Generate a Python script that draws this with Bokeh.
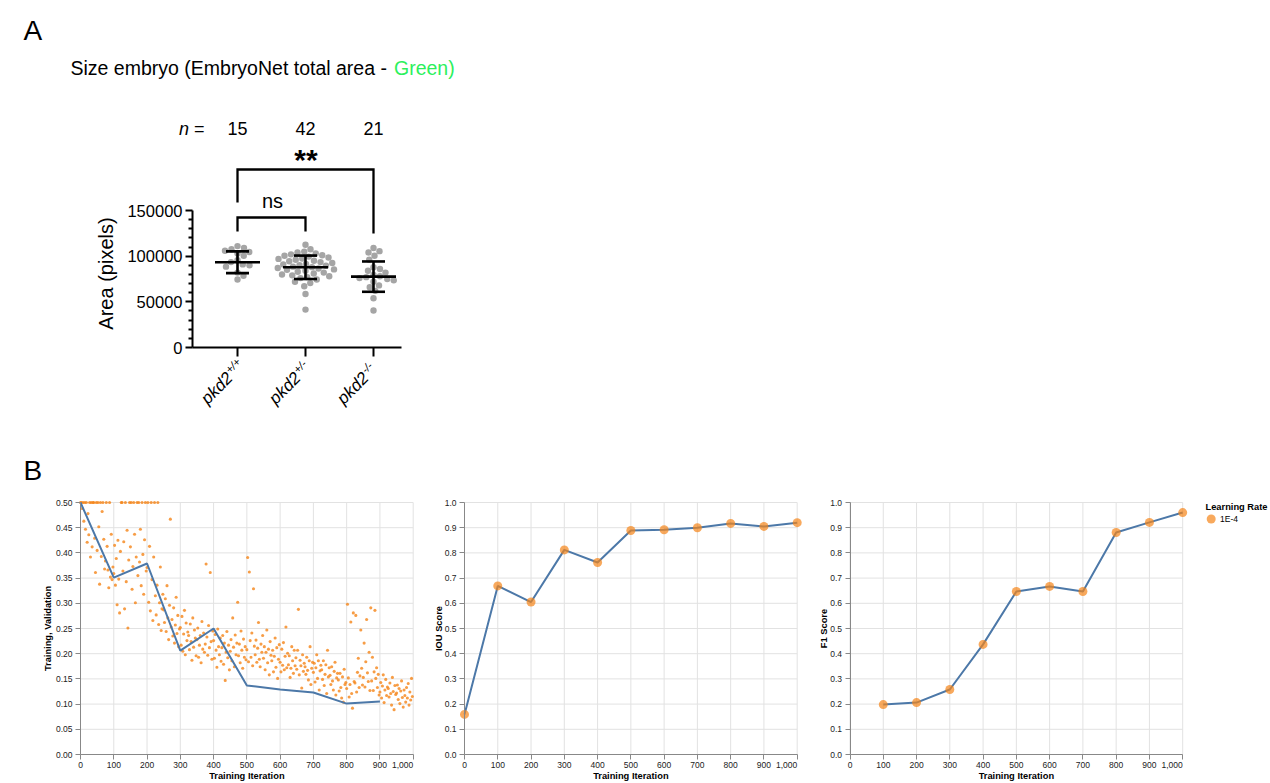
import numpy as np
from bokeh.plotting import figure
from bokeh.models import LinearAxis, FixedTicker, Range1d, NumeralTickFormatter, BasicTickFormatter
from bokeh.layouts import column, row
from bokeh.embed import file_html
from bokeh.resources import INLINE
from bokeh.core.properties import value

FONT = "Liberation Sans"

# ---------------- Panel A data ----------------
genotypes = ["pkd2", "pkd2", "pkd2"]
genotype_sup = ["+/+", "+/-", "-/-"]
n_labels = ["15", "42", "21"]
area_wt = [111000, 109000, 107500, 106000, 104500, 103000, 100500, 95500,
           93500, 91000, 90000, 88500, 82000, 78500, 74500]
area_het = [112500, 107500, 105000, 104000, 103000, 102000, 101000, 100500,
            99500, 98500, 97500, 97000, 96000, 95000, 94500, 93500, 92500,
            91500, 91000, 90000, 89500, 88500, 88000, 87000, 86500, 85500,
            85000, 84000, 83000, 82000, 81000, 80000, 79000, 78000, 77000,
            76000, 74500, 72000, 70500, 67000, 58500, 41500]
area_mut = [109000, 105500, 104000, 100500, 96000, 88000, 86000, 84000, 82000,
            79500, 78000, 77000, 76000, 75000, 73500, 72000, 68000, 66000,
            62000, 54000, 40500]
area_mean = [93300, 87800, 77600]
area_sd = [11900, 12800, 16600]
area_ticks = [0, 50000, 100000, 150000]
area_minor = [10000, 20000, 30000, 40000, 60000, 70000, 80000, 90000,
              110000, 120000, 130000, 140000]
sig_labels = ["ns", "**"]

# ---------------- Panel B data ----------------
iter_ticks = [0, 100, 200, 300, 400, 500, 600, 700, 800, 900, 1000]
loss_ticks = [0.0, 0.05, 0.10, 0.15, 0.20, 0.25, 0.30, 0.35, 0.40, 0.45, 0.50]
score_ticks = [0.0, 0.1, 0.2, 0.3, 0.4, 0.5, 0.6, 0.7, 0.8, 0.9, 1.0]
loss_log_step = 2.5  # training loss logged every 2.5 iterations
train_loss = [
    0.500, 0.500, 0.488, 0.500, 0.463, 0.500, 0.447, 0.500, 0.421, 0.478,
    0.436, 0.500, 0.392, 0.500, 0.412, 0.500, 0.500, 0.429, 0.361, 0.500,
    0.405, 0.500, 0.452, 0.338, 0.500, 0.393, 0.482, 0.500, 0.427, 0.368,
    0.384, 0.500, 0.413, 0.366, 0.331, 0.500, 0.352, 0.437, 0.347, 0.372,
    0.359, 0.415, 0.336, 0.389, 0.297, 0.425, 0.348, 0.281, 0.403, 0.500,
    0.500, 0.364, 0.422, 0.289, 0.500, 0.343, 0.445, 0.251, 0.386, 0.500,
    0.412, 0.500, 0.328, 0.373, 0.500, 0.437, 0.301, 0.392, 0.500, 0.355,
    0.500, 0.382, 0.447, 0.335, 0.500, 0.397, 0.318, 0.426, 0.500, 0.364,
    0.371, 0.500, 0.302, 0.413, 0.285, 0.500, 0.347, 0.266, 0.392, 0.500,
    0.315, 0.277, 0.336, 0.500, 0.258, 0.301, 0.372, 0.246, 0.289, 0.318,
    0.287, 0.262, 0.309, 0.244, 0.335, 0.271, 0.228, 0.296, 0.467, 0.253,
    0.268, 0.235, 0.291, 0.221, 0.257, 0.312, 0.240, 0.276, 0.214, 0.249,
    0.252, 0.217, 0.274, 0.205, 0.239, 0.286, 0.198, 0.261, 0.226, 0.243,
    0.236, 0.208, 0.259, 0.224, 0.187, 0.271, 0.213, 0.247, 0.231, 0.196,
    0.228, 0.251, 0.193, 0.217, 0.236, 0.182, 0.264, 0.209, 0.241, 0.203,
    0.219, 0.378, 0.233, 0.197, 0.256, 0.212, 0.361, 0.224, 0.189, 0.245,
    0.226, 0.191, 0.238, 0.207, 0.173, 0.249, 0.214, 0.198, 0.231, 0.185,
    0.212, 0.236, 0.179, 0.221, 0.147, 0.203, 0.244, 0.192, 0.217, 0.168,
    0.205, 0.228, 0.186, 0.271, 0.213, 0.174, 0.237, 0.198, 0.221, 0.302,
    0.196, 0.219, 0.182, 0.245, 0.207, 0.171, 0.229, 0.193, 0.214, 0.188,
    0.208, 0.391, 0.184, 0.362, 0.226, 0.193, 0.241, 0.176, 0.329, 0.215,
    0.198, 0.227, 0.183, 0.211, 0.262, 0.189, 0.174, 0.219, 0.203, 0.236,
    0.191, 0.214, 0.168, 0.203, 0.247, 0.182, 0.209, 0.158, 0.224, 0.197,
    0.186, 0.207, 0.164, 0.195, 0.231, 0.173, 0.212, 0.151, 0.189, 0.218,
    0.183, 0.164, 0.209, 0.177, 0.222, 0.168, 0.195, 0.253, 0.172, 0.201,
    0.178, 0.196, 0.153, 0.171, 0.214, 0.186, 0.161, 0.207, 0.176, 0.192,
    0.169, 0.207, 0.288, 0.158, 0.187, 0.176, 0.132, 0.198, 0.165, 0.181,
    0.174, 0.159, 0.193, 0.167, 0.148, 0.186, 0.214, 0.139, 0.171, 0.183,
    0.163, 0.181, 0.144, 0.172, 0.198, 0.151, 0.186, 0.128, 0.166, 0.177,
    0.168, 0.149, 0.186, 0.137, 0.159, 0.178, 0.121, 0.207, 0.154, 0.172,
    0.157, 0.139, 0.174, 0.146, 0.128, 0.165, 0.183, 0.118, 0.152, 0.161,
    0.148, 0.126, 0.161, 0.133, 0.112, 0.154, 0.104, 0.169, 0.139, 0.143,
    0.131, 0.298, 0.152, 0.114, 0.139, 0.263, 0.121, 0.092, 0.281, 0.145,
    0.142, 0.276, 0.124, 0.163, 0.191, 0.133, 0.156, 0.247, 0.171, 0.138,
    0.153, 0.221, 0.134, 0.184, 0.268, 0.162, 0.145, 0.203, 0.127, 0.291,
    0.146, 0.193, 0.127, 0.164, 0.286, 0.151, 0.172, 0.133, 0.159, 0.118,
    0.124, 0.143, 0.112, 0.136, 0.158, 0.103, 0.128, 0.149, 0.117, 0.134,
    0.131, 0.114, 0.142, 0.121, 0.098, 0.153, 0.125, 0.089, 0.137, 0.119,
    0.122, 0.138, 0.109, 0.131, 0.101, 0.126, 0.146, 0.113, 0.094, 0.128,
    0.117, 0.104, 0.133, 0.112, 0.141, 0.098, 0.124, 0.108, 0.151, 0.115,
]
val_iter = [0, 100, 200, 300, 400, 500, 600, 700, 800, 900]
val_loss = [0.500, 0.351, 0.379, 0.206, 0.250, 0.137, 0.129, 0.123, 0.101, 0.105]
iou_iter = [0, 100, 200, 300, 400, 500, 600, 700, 800, 900, 1000]
iou_score = [0.159, 0.669, 0.605, 0.812, 0.762, 0.889, 0.892, 0.900, 0.917, 0.905, 0.920]
f1_iter = [100, 200, 300, 400, 500, 600, 700, 800, 900, 1000]
f1_score = [0.198, 0.206, 0.258, 0.437, 0.647, 0.667, 0.647, 0.881, 0.921, 0.960]
legend_title = "Learning Rate"
learning_rate = "1E-4"

ORANGE = "#f58518"
BLUE = "#4c78a8"


def tx(p, fx, fy, xs, ys, texts, size, align="left", baseline="middle",
       angle=0.0, style="normal", color="#000000"):
    p.text(x=[fx(v) for v in xs], y=[fy(v) for v in ys], text=texts,
           text_font=value(FONT), text_font_size=value(size),
           text_font_style=style, text_align=align, text_baseline=baseline,
           angle=angle, text_color=color)


# ======================= Panel A =======================
WA, HA = 1268, 485
CAT_PX = [237.0, 305.0, 373.0]
PX_PER_CAT = 68.0
PX_PER_VAL = 137.0 / 150000.0


def axA(px):
    return 1.0 + (px - 237.0) / PX_PER_CAT


def ayA(py):
    return (347.0 - py) / PX_PER_VAL


pA = figure(width=WA, height=HA, x_range=Range1d(axA(0), axA(WA)),
            y_range=Range1d(ayA(HA), ayA(0)), x_axis_location=None,
            y_axis_location=None, toolbar_location=None, output_backend="svg",
            min_border=0, outline_line_color=None, title=None)
pA.grid.visible = False

yA = LinearAxis(fixed_location=axA(192), bounds=(0, 150000),
                ticker=FixedTicker(ticks=area_ticks, minor_ticks=area_minor),
                formatter=BasicTickFormatter(use_scientific=False),
                axis_line_width=2, axis_line_color="black",
                major_tick_line_width=2, minor_tick_line_width=2,
                major_tick_out=7, major_tick_in=0, minor_tick_out=4, minor_tick_in=0,
                major_label_text_font=FONT, major_label_text_font_size="16.5px",
                major_label_text_color="black", major_label_standoff=3)
pA.add_layout(yA, "left")
xA = LinearAxis(fixed_location=0, bounds=(axA(192), axA(401)),
                ticker=FixedTicker(ticks=[1, 2, 3], minor_ticks=[]),
                major_label_overrides={1: "", 2: "", 3: ""},
                axis_line_width=2, axis_line_color="black",
                major_tick_line_width=2, major_tick_out=9, major_tick_in=0,
                minor_tick_line_color=None, major_label_text_font_size="1px")
pA.add_layout(xA, "below")


def swarm_offsets(vals, diam=6.6, step=0.25):
    order = sorted(range(len(vals)), key=lambda i: vals[i], reverse=True)
    placed = []
    offs = [0.0] * len(vals)
    for i in order:
        yp = vals[i] * PX_PER_VAL
        k = 0
        chosen = None
        while chosen is None:
            cands = [0.0] if k == 0 else [k * step, -k * step]
            for c in cands:
                if all((c - qx) ** 2 + (yp - qy) ** 2 >= diam ** 2 for qx, qy in placed):
                    chosen = c
                    break
            k += 1
        placed.append((chosen, yp))
        offs[i] = chosen
    return offs


for gi, vals in enumerate([area_wt, area_het, area_mut]):
    offs = swarm_offsets(vals)
    xs = [gi + 1 + o / PX_PER_CAT for o in offs]
    pA.scatter(x=xs, y=vals, size=6.4, fill_color="#a5a5a5", line_color=None)

cats = np.array([1.0, 2.0, 3.0])
mh = 22.5 / PX_PER_CAT
ch = 11.5 / PX_PER_CAT
mean = np.array(area_mean, dtype=float)
sd = np.array(area_sd, dtype=float)
pA.segment(x0=cats - mh, y0=mean, x1=cats + mh, y1=mean, line_color="black", line_width=2.6)
pA.segment(x0=cats, y0=mean - sd, x1=cats, y1=mean + sd, line_color="black", line_width=2.6)
pA.segment(x0=cats - ch, y0=mean + sd, x1=cats + ch, y1=mean + sd, line_color="black", line_width=2.6)
pA.segment(x0=cats - ch, y0=mean - sd, x1=cats + ch, y1=mean - sd, line_color="black", line_width=2.6)

# significance brackets
pA.line(x=[1, 1, 3, 3], y=[ayA(202), ayA(169), ayA(169), ayA(233)],
        line_color="black", line_width=2.3, line_join="miter")
pA.line(x=[1, 1, 2, 2], y=[ayA(231), ayA(217), ayA(217), ayA(231)],
        line_color="black", line_width=2.3, line_join="miter")
tx(pA, axA, ayA, [272], [200], [sig_labels[0]], "20px", align="center")
tx(pA, axA, ayA, [305.5], [159], [sig_labels[1]], "30px", align="center", style="bold")

# n = row
tx(pA, axA, ayA, [178.5], [128], ["n"], "18px", style="italic")
tx(pA, axA, ayA, [193.5], [128], ["="], "18px")
tx(pA, axA, ayA, CAT_PX, [128] * 3, n_labels, "18px", align="center")

# title and panel letters
tx(pA, axA, ayA, [23], [30], ["A"], "28px")
tx(pA, axA, ayA, [23], [470], ["B"], "28px")
tx(pA, axA, ayA, [70], [67], ["Size embryo (EmbryoNet total area - "], "19.5px")
tx(pA, axA, ayA, [393.5], [67], ["Green)"], "19.5px", color="#2cf05c")

# y axis title
tx(pA, axA, ayA, [105], [273], ["Area (pixels)"], "20px", align="center",
   angle=np.pi / 2)

# rotated genotype labels
tx(pA, axA, ayA, [c - 7.6 for c in CAT_PX], [374.8] * 3, genotypes, "17px",
   align="right", angle=np.pi / 4, style="italic")
tx(pA, axA, ayA, [c - 10.4 for c in CAT_PX], [370.6] * 3, genotype_sup, "11px",
   align="left", angle=np.pi / 4, style="italic")


# ======================= Panel B =======================
FIG_TOP, FIG_BOT = 485.0, 781.0
HB = int(FIG_BOT - FIG_TOP)
Y0_PX, YTOP_PX = 754.0, 502.0


def make_b(fx0, fx1, gx0, gx1, ymax, yticks, yfmt):
    def xd(px):
        return (px - gx0) / (gx1 - gx0) * 1000.0

    def yd(py):
        return (Y0_PX - py) / (Y0_PX - YTOP_PX) * ymax

    p = figure(width=int(round(fx1 - fx0)), height=HB,
               x_range=Range1d(xd(fx0), xd(fx1)), y_range=Range1d(yd(FIG_BOT), yd(FIG_TOP)),
               x_axis_location=None, y_axis_location=None, toolbar_location=None,
               output_backend="svg", min_border=0, outline_line_color=None, title=None)
    p.grid.visible = False
    nx, ny = len(iter_ticks), len(yticks)
    p.segment(x0=iter_ticks, y0=[0] * nx, x1=iter_ticks, y1=[ymax] * nx,
              line_color="#e2e2e2", line_width=1, level="underlay")
    p.segment(x0=[0] * ny, y0=yticks, x1=[1000] * ny, y1=yticks,
              line_color="#e2e2e2", line_width=1, level="underlay")
    yax = LinearAxis(fixed_location=0, bounds=(0, ymax),
                     ticker=FixedTicker(ticks=yticks, minor_ticks=[]),
                     formatter=NumeralTickFormatter(format=yfmt),
                     axis_line_color="#888888", major_tick_line_color="#888888",
                     major_tick_out=5, major_tick_in=0, minor_tick_line_color=None,
                     major_label_text_font=FONT, major_label_text_font_size="8.5px",
                     major_label_text_color="#222222", major_label_standoff=3)
    p.add_layout(yax, "left")
    xax = LinearAxis(fixed_location=0, bounds=(0, 1000),
                     ticker=FixedTicker(ticks=iter_ticks, minor_ticks=[]),
                     formatter=NumeralTickFormatter(format="0,0"),
                     major_label_overrides={1000: ""},
                     axis_line_color="#888888", major_tick_line_color="#888888",
                     major_tick_out=5, major_tick_in=0, minor_tick_line_color=None,
                     major_label_text_font=FONT, major_label_text_font_size="8.5px",
                     major_label_text_color="#222222", major_label_standoff=2)
    p.add_layout(xax, "below")
    p.text(x=[1000], y=[yd(761)], text=["1,000"], text_font=value(FONT),
           text_font_size=value("8.5px"), text_align="right", text_baseline="top",
           text_color="#222222")
    tx(p, xd, yd, [(gx0 + gx1) / 2.0], [775], ["Training Iteration"], "9.3px",
       align="center", style="bold")
    return p, xd, yd


# B1: loss
b1, xd1, yd1 = make_b(0, 428, 80.0, 412.7, 0.5, loss_ticks, "0.00")
loss_iter = [i * loss_log_step for i in range(len(train_loss))]
b1.scatter(x=loss_iter, y=train_loss, size=3.1, fill_color=ORANGE, fill_alpha=0.8,
           line_color=None)
b1.line(x=val_iter, y=val_loss, line_color=BLUE, line_width=2)
tx(b1, xd1, yd1, [47], [628], ["Training, Validation"], "9.3px", align="center",
   angle=np.pi / 2, style="bold")

# B2: IOU
b2, xd2, yd2 = make_b(428, 812, 464.0, 796.7, 1.0, score_ticks, "0.0")
b2.line(x=iou_iter, y=iou_score, line_color=BLUE, line_width=2)
b2.scatter(x=iou_iter, y=iou_score, size=9, fill_color=ORANGE, fill_alpha=0.7, line_color=None)
tx(b2, xd2, yd2, [438], [628], ["IOU Score"], "9.3px", align="center",
   angle=np.pi / 2, style="bold")

# B3: F1
b3, xd3, yd3 = make_b(812, 1268, 849.5, 1182.2, 1.0, score_ticks, "0.0")
b3.line(x=f1_iter, y=f1_score, line_color=BLUE, line_width=2)
b3.scatter(x=f1_iter, y=f1_score, size=9, fill_color=ORANGE, fill_alpha=0.7, line_color=None)
tx(b3, xd3, yd3, [823], [628], ["F1 Score"], "9.3px", align="center",
   angle=np.pi / 2, style="bold")
# legend
tx(b3, xd3, yd3, [1205], [506], [legend_title], "9.3px", style="bold")
b3.scatter(x=[xd3(1210.7)], y=[yd3(518.5)], size=9, fill_color=ORANGE, fill_alpha=0.7,
           line_color=None)
tx(b3, xd3, yd3, [1219.5], [518.5], [learning_rate], "8.5px")

layout = column(pA, row(b1, b2, b3, spacing=0), spacing=0)
open("out.html", "w").write(file_html(layout, INLINE))
